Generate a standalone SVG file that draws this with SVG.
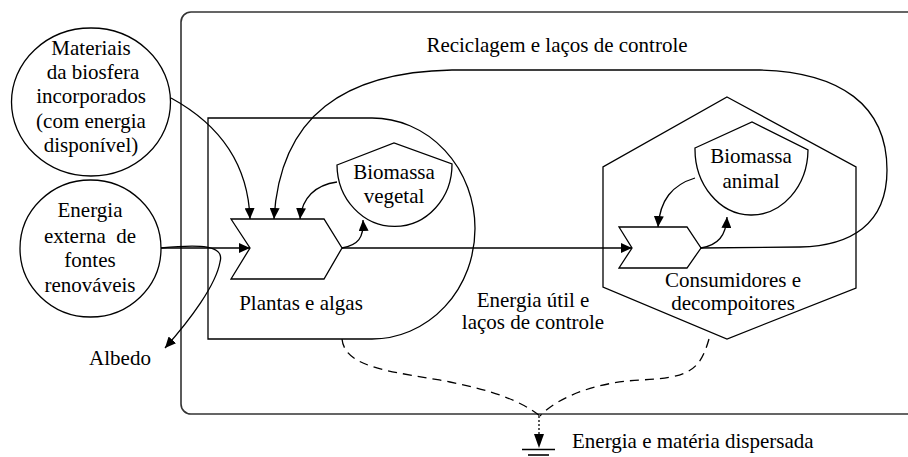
<svg xmlns="http://www.w3.org/2000/svg" width="908" height="457" viewBox="0 0 908 457">
<style>
.t{font-family:"Liberation Serif","Times New Roman",serif;font-size:21px;fill:#000;text-anchor:middle}
.s{fill:none;stroke:#000;stroke-width:1.3}
.w{fill:#fff;stroke:#000;stroke-width:1.3}
.d{fill:none;stroke:#000;stroke-width:1.3;stroke-dasharray:9,6}
</style>
<defs>
<marker id="ah" markerWidth="11" markerHeight="10" refX="11" refY="5" orient="auto" markerUnits="userSpaceOnUse">
<path d="M0,0 L11,5 L0,10 z" fill="#000"/>
</marker>
</defs>
<rect width="908" height="457" fill="#fff"/>

<g id="boundary">
<rect x="181" y="12" width="780" height="402" rx="10" fill="none" stroke="#333" stroke-width="1.6"/>
<text class="t" x="557" y="52">Reciclagem e laços de controle</text>
</g>

<g id="materiais">
<ellipse cx="91" cy="102" rx="79.5" ry="74" class="w"/>
<text class="t" x="91" y="55">Materiais</text>
<text class="t" x="93" y="79">da biosfera</text>
<text class="t" x="91" y="103">incorporados</text>
<text class="t" x="91" y="128">(com energia</text>
<text class="t" x="91" y="152">disponível)</text>
</g>

<g id="energia-externa">
<ellipse cx="90.5" cy="248.5" rx="70.5" ry="68.5" class="w"/>
<text class="t" x="90" y="217">Energia</text>
<text class="t" x="90" y="243" style="white-space:pre">externa  de</text>
<text class="t" x="90" y="267">fontes</text>
<text class="t" x="90" y="292">renováveis</text>
</g>

<g id="albedo">
<text class="t" x="120" y="365">Albedo</text>
</g>

<g id="plantas">
<path class="s" d="M208,118 H372 A103,110.5 0 0 1 372,339 H208 Z"/>
<text class="t" x="301" y="310">Plantas e algas</text>
</g>

<g id="produtor">
<polygon class="w" points="231,219 324,219 342,248 324,279 231,279 250,248"/>
</g>

<g id="biomassa-vegetal">
<path class="w" d="M337,165 L394,143 L452,164 A57.5,62 0 0 1 337,165 Z"/>
<text class="t" x="394" y="179">Biomassa</text>
<text class="t" x="394" y="203">vegetal</text>
</g>

<g id="consumidores">
<polygon class="s" points="727,97 856,167 856,288 727,339 603,287 603,167"/>
<text class="t" x="733" y="287">Consumidores e</text>
<text class="t" x="733" y="310">decompoitores</text>
</g>

<g id="consumidor">
<polygon class="w" points="619,227 687,227 701,248 687,268 619,268 632,248"/>
</g>

<g id="biomassa-animal">
<path class="w" d="M695,148 L752,122 L808,150 A56.5,66 0 0 1 695,148 Z"/>
<text class="t" x="751" y="163">Biomassa</text>
<text class="t" x="751" y="188">animal</text>
</g>

<g id="energia-util">
<text class="t" x="533" y="307">Energia útil e</text>
<text class="t" x="533" y="329">laços de controle</text>
</g>

<g id="dispersada">
<text class="t" x="572" y="448" style="text-anchor:start">Energia e matéria dispersada</text>
<line x1="522" y1="449.5" x2="555" y2="449.5" stroke="#000" stroke-width="1.6"/>
<line x1="528" y1="455" x2="549" y2="455" stroke="#000" stroke-width="1.6"/>
</g>

<g id="connectors">
<path class="s" d="M171,98 C215,122 248,160 250,219" marker-end="url(#ah)"/>
<path class="s" d="M700,248 L800,247 C850,246 887,225 887,170 C887,105 840,72 760,70 L452,70 C345,72 280,115 274,219" marker-end="url(#ah)"/>
<path class="s" d="M337,182 C315,185 302,198 300,219" marker-end="url(#ah)"/>
<path class="s" d="M342,248 C358,245 364,238 363,220" marker-end="url(#ah)"/>
<path class="s" d="M161,248 L250,248" marker-end="url(#ah)"/>
<path class="s" d="M161,248 C200,244 225,245 220,262 C216,285 190,320 165,348" marker-end="url(#ah)"/>
<path class="s" d="M342,248 L632,248" marker-end="url(#ah)"/>
<path class="s" d="M695,178 C672,185 660,200 658,227" marker-end="url(#ah)"/>
<path class="s" d="M701,248 C718,245 726,236 727,217" marker-end="url(#ah)"/>
<path class="d" d="M342,339 C345,370 400,372 450,382 C490,390 520,400 540,416"/>
<path class="d" d="M709,339 C700,370 690,378 640,380 C600,382 560,395 540,416"/>
<path d="M539,416 L539,434" fill="none" stroke="#000" stroke-width="1.3" stroke-dasharray="2,2"/>
<path d="M534,434 L544,434 L539,448 z" fill="#000"/>
</g>
</svg>
